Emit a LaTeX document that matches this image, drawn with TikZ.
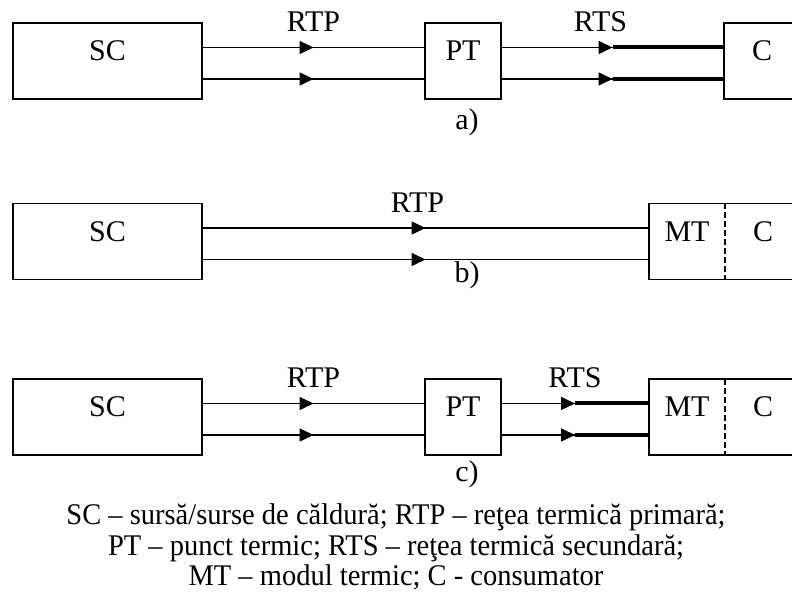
\documentclass[tikz,border=0pt]{standalone}
\usepackage{fontspec}
\setmainfont{Liberation Serif}
\usetikzlibrary{arrows.meta, decorations.markings, calc, positioning}
\tikzstyle{source} = [rectangle, draw=black, line width=0.9pt, minimum width=94.5pt, minimum height=38pt, text height=10pt, text depth=10pt, inner sep=0pt, outer sep=0pt]
\tikzstyle{station} = [rectangle, draw=black, line width=0.9pt, minimum width=38pt, minimum height=38pt, text height=10pt, text depth=10pt, inner sep=0pt, outer sep=0pt]
\tikzstyle{cell} = [rectangle, minimum width=38pt, minimum height=38pt, text height=10pt, text depth=10pt, inner sep=0pt, outer sep=0pt]
\tikzstyle{pipe} = [line width=0.8pt, decoration={markings, mark=at position 0.5 with {\arrow{Triangle[length=7pt,width=6.5pt]}}}, postaction={decorate}]
\tikzstyle{heavy} = [line width=2pt]
\tikzstyle{tag} = [above=7.5pt, inner sep=0pt]
\tikzstyle{frame} = [line width=0.9pt]

\begin{document}
\begin{tikzpicture}[x=1pt, y=1pt, font=\fontsize{15}{15.25}\selectfont]
        \useasboundingbox (0,0) rectangle (396,304);
        % a) source, thermal point, consumer
        \node (sca) [source] at (53.75,273.5) {SC};
        \node (pta) [station, right=111.5pt of sca] {PT};
        \node (ca) [station, right=111.5pt of pta] {C};
        \draw [pipe] ([yshift=6.75pt]sca.east) -- ([yshift=6.75pt]pta.west) node [tag, midway] {RTP};
        \draw [pipe] ([yshift=-9pt]sca.east) -- ([yshift=-9pt]pta.west);
        \draw [pipe] ([yshift=6.75pt]pta.east) -- ([yshift=6.75pt]ca.west) node [tag, midway, xshift=-6pt] {RTS};
        \draw [pipe] ([yshift=-9pt]pta.east) -- ([yshift=-9pt]ca.west);
        \draw [heavy] ($([yshift=6.75pt]pta.east)!0.5!([yshift=6.75pt]ca.west)$) -- ([yshift=6.75pt]ca.west);
        \draw [heavy] ($([yshift=-9pt]pta.east)!0.5!([yshift=-9pt]ca.west)$) -- ([yshift=-9pt]ca.west);
        \node (laba) [anchor=base] at (233.5,239) {a)};
        % b) source straight to the thermal module
        \node (scb) [source, below=52.25pt of sca] {SC};
        \node (mtb) [cell, right=223.5pt of scb] {MT};
        \node (cb) [cell, right=0pt of mtb] {C};
        \draw [frame] (mtb.north west) rectangle (cb.south east);
        \draw [frame, dash pattern=on 3pt off 1.5pt] (mtb.north east) -- (mtb.south east);
        \draw [pipe] ([yshift=6.75pt]scb.east) -- ([yshift=6.75pt]mtb.west) node [tag, midway, xshift=-4pt] {RTP};
        \draw [pipe] ([yshift=-9pt]scb.east) -- ([yshift=-9pt]mtb.west);
        \node (labb) [anchor=base] at (233.5,162.5) {b)};
        % c) source, thermal point, thermal module
        \node (scc) [source, below=49.75pt of scb] {SC};
        \node (ptc) [station, right=111.5pt of scc] {PT};
        \node (mtc) [cell, right=74pt of ptc] {MT};
        \node (cc) [cell, right=0pt of mtc] {C};
        \draw [frame] (mtc.north west) rectangle (cc.south east);
        \draw [frame, dash pattern=on 3pt off 1.5pt] (mtc.north east) -- (mtc.south east);
        \draw [pipe] ([yshift=6.75pt]scc.east) -- ([yshift=6.75pt]ptc.west) node [tag, midway] {RTP};
        \draw [pipe] ([yshift=-9pt]scc.east) -- ([yshift=-9pt]ptc.west);
        \draw [pipe] ([yshift=6.75pt]ptc.east) -- ([yshift=6.75pt]mtc.west) node [tag, midway] {RTS};
        \draw [pipe] ([yshift=-9pt]ptc.east) -- ([yshift=-9pt]mtc.west);
        \draw [heavy] ($([yshift=6.75pt]ptc.east)!0.5!([yshift=6.75pt]mtc.west)$) -- ([yshift=6.75pt]mtc.west);
        \draw [heavy] ($([yshift=-9pt]ptc.east)!0.5!([yshift=-9pt]mtc.west)$) -- ([yshift=-9pt]mtc.west);
        \node (labc) [anchor=base] at (233.5,63) {c)};
        % legend
        \node (legend) [align=center, font=\fontsize{15}{15.25}\selectfont\addfontfeature{FakeStretch=0.95}] at (198,30.5) {SC – sursă/surse de căldură; RTP – reţea termică primară;\\PT – punct termic; RTS – reţea termică secundară;\\MT – modul termic; C - consumator};
\end{tikzpicture}
\end{document}
